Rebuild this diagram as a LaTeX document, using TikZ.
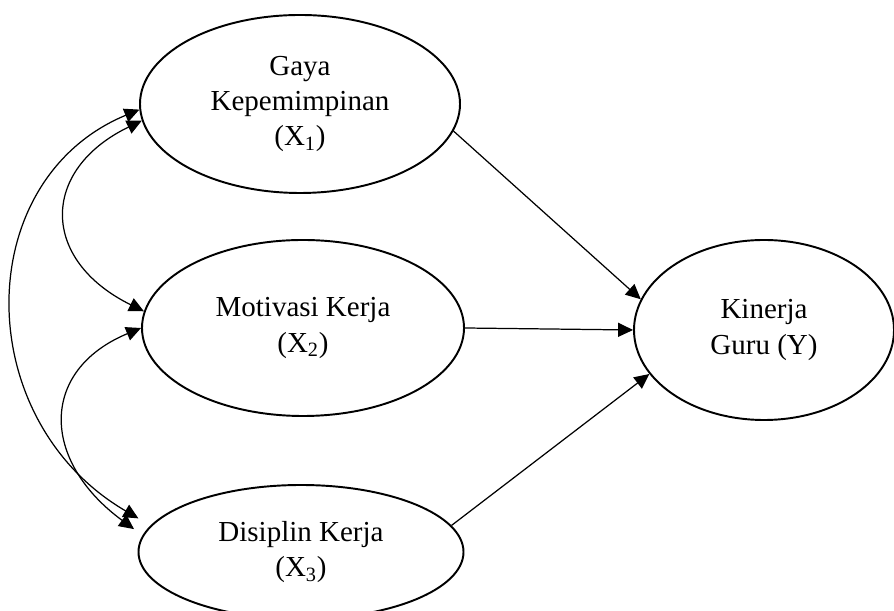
\documentclass[tikz,border=0pt]{standalone}
\usepackage{fontspec}
\setmainfont{Liberation Serif}
\usetikzlibrary{shapes.geometric}
\usetikzlibrary{arrows.meta}

\begin{document}
\begin{tikzpicture}[fill=white,
	var/.style={ellipse,draw,fill,line width=1.1pt,inner sep=0pt,align=center,
		font=\fontsize{16.5}{20}\selectfont},
	panah/.style={-{Triangle[length=8.5pt,width=8pt]},line width=0.7pt},
	duapanah/.style={{Triangle[length=8.5pt,width=8pt]}-{Triangle[length=8.5pt,width=8pt]},line width=0.7pt}]
		\useasboundingbox (0,0) rectangle (17.88,12.22);
		\path (6.0,10.14) node(x1)[var,minimum width=6.4cm,minimum height=3.56cm]{Gaya\\Kepemimpinan\\(X\textsubscript{1})}
		(6.06,5.66) node(x2)[var,minimum width=6.44cm,minimum height=3.52cm]{Motivasi Kerja\\(X\textsubscript{2})}
		(6.02,1.18) node(x3)[var,minimum width=6.5cm,minimum height=2.68cm]{Disiplin Kerja\\(X\textsubscript{3})}
		(15.28,5.62) node(y)[var,minimum width=5.2cm,minimum height=3.6cm]{Kinerja\\Guru (Y)};
		\draw [panah] (x1.-10) -- (y.166);
		\draw [panah] (x2.east) -- (y.west);
		\draw [panah] (x3.10) -- (y.201);
		\draw [duapanah] (x1.186) .. controls (0.8,8.82) and (0.8,7.02) .. (x2.174);
		\draw [duapanah,shorten >=6pt] (x2.180) .. controls (0.8,4.82) and (0.8,3.02) .. (x3.174);
		\draw [duapanah,shorten >=8pt] (x1.182) .. controls (-0.6,8.62) and (-0.6,3.82) .. (x3.170);
	\end{tikzpicture}
\end{document}
